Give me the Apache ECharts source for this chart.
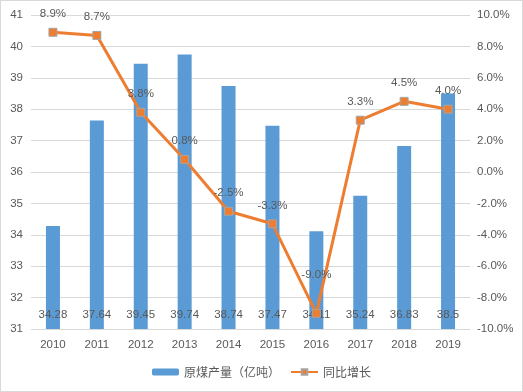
<!DOCTYPE html>
<html><head><meta charset="utf-8">
<script src="https://cdn.jsdelivr.net/npm/echarts@6/dist/echarts.min.js"></script>
<style>html,body{margin:0;padding:0;background:#fff}#c{width:521px;height:390px;border:1px solid #d9d9d9}</style>
</head><body><div id="c"></div>
<script>
const categories = ['2010','2011','2012','2013','2014','2015','2016','2017','2018','2019'];
const production = [34.28, 37.64, 39.45, 39.74, 38.74, 37.47, 34.11, 35.24, 36.83, 38.5];
const growth = [8.9, 8.7, 3.8, 0.8, -2.5, -3.3, -9.0, 3.3, 4.5, 4.0];
const leftTicks = {min: 31, max: 41, interval: 1};
const rightTicks = {min: -10, max: 10, interval: 2};

const chart = echarts.init(document.getElementById('c'));
const font = '"Liberation Sans","Noto Sans CJK SC",sans-serif';
const txt = '#595959';
chart.setOption({
  animation: false,
  textStyle: {fontFamily: font},
  grid: {left: 30, right: 52, top: 14, bottom: 62},
  legend: {
    bottom: 8, left: 'center', itemWidth: 27, itemHeight: 7, itemGap: 10,
    textStyle: {color: txt, fontSize: 12, fontFamily: '"Noto Sans CJK SC",sans-serif'},
    data: ['原煤产量（亿吨）', '同比增长']
  },
  xAxis: {
    type: 'category', data: categories,
    axisLine: {lineStyle: {color: '#d9d9d9'}}, axisTick: {show: false},
    axisLabel: {color: txt, fontSize: 11.5, margin: 10}
  },
  yAxis: [{
    type: 'value', min: leftTicks.min, max: leftTicks.max, interval: leftTicks.interval,
    axisLine: {show: false}, axisTick: {show: false},
    axisLabel: {color: txt, fontSize: 11.5, margin: 8},
    splitLine: {lineStyle: {color: '#d9d9d9'}}
  }, {
    type: 'value', min: rightTicks.min, max: rightTicks.max, interval: rightTicks.interval,
    axisLine: {show: false}, axisTick: {show: false},
    axisLabel: {color: txt, fontSize: 11.5, margin: 7, formatter: v => v.toFixed(1) + '%'},
    splitLine: {show: false}
  }],
  series: [{
    name: '原煤产量（亿吨）', type: 'bar', data: production, barWidth: 14,
    itemStyle: {color: '#5B9BD5'},
    label: {show: true, position: 'insideBottom', distance: 8, color: txt, fontSize: 11.5}
  }, {
    name: '同比增长', type: 'line', yAxisIndex: 1,
    data: growth.map((v, i) => i === 6 ? {value: v, label: {offset: [0, -20]}} : v),
    lineStyle: {color: '#ED7D31', width: 3},
    itemStyle: {color: '#ED7D31', borderColor: '#A5A5A5', borderWidth: 1},
    symbol: 'rect', symbolSize: 8,
    label: {show: true, position: 'top', distance: 8, color: txt, fontSize: 11.5,
      formatter: p => p.value.toFixed(1) + '%'}
  }]
});
</script></body></html>
